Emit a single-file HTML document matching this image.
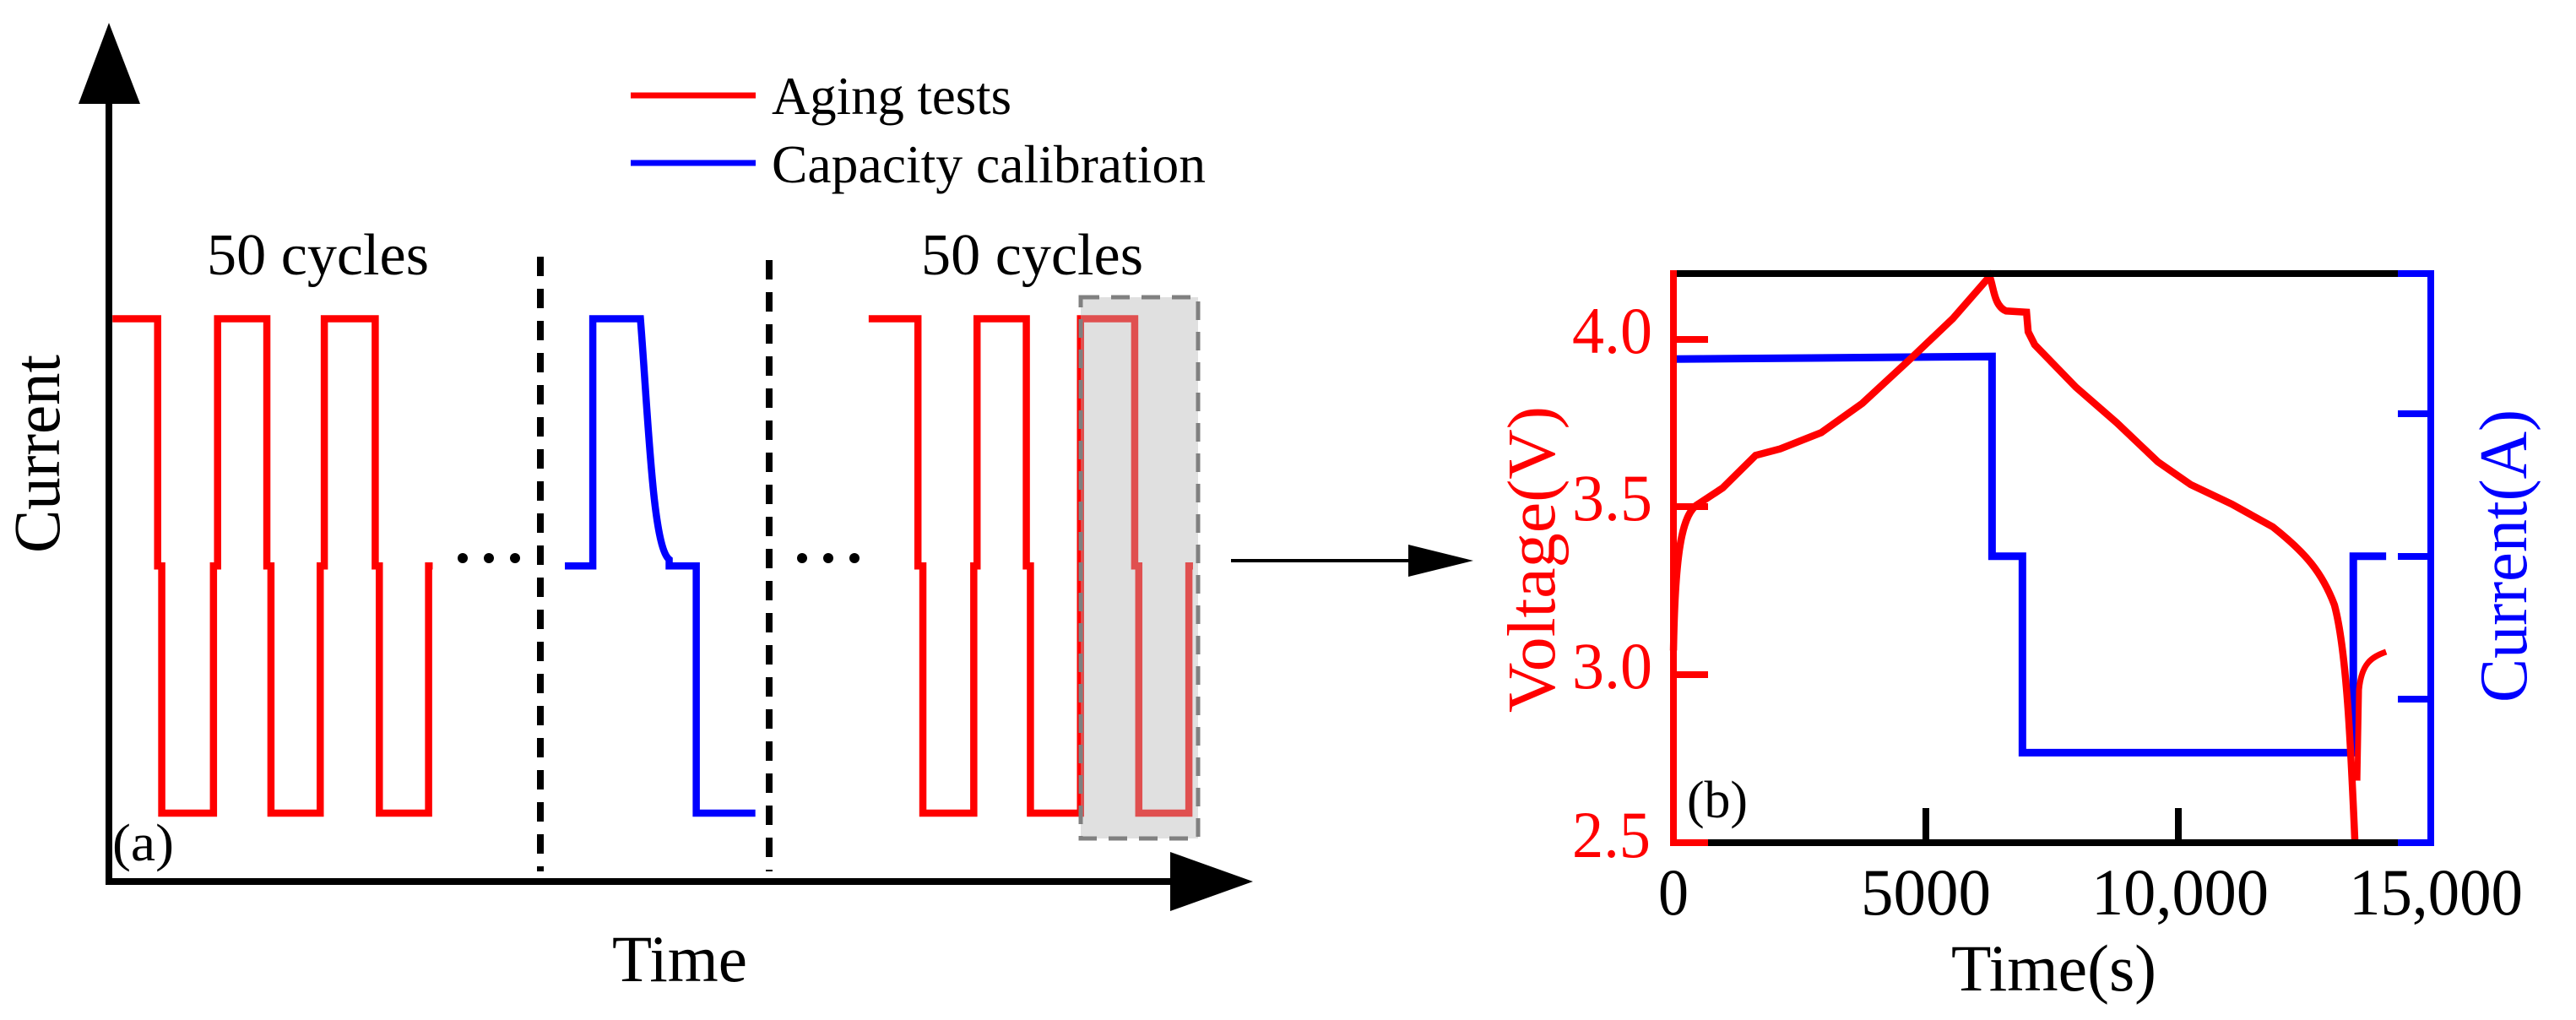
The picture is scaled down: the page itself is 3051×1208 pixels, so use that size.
<!DOCTYPE html>
<html><head><meta charset="utf-8"><style>
html,body{margin:0;padding:0;background:#fff;}
svg{display:block;}
text{font-family:"Liberation Serif",serif;}
</style></head><body>
<svg width="3051" height="1208" viewBox="0 0 3051 1208" xmlns="http://www.w3.org/2000/svg">
<!-- LEFT PANEL -->
<g transform="scale(0.97245,0.77042)" fill="none" stroke-linejoin="miter">
  <path vector-effect="non-scaling-stroke" stroke="#ff0000" stroke-width="8.5" d="M137,490 H192 V870 H197 V1250 H260 V870 H265 V490 H325 V870 H330 V1250 H390 V870 H395 V490 H457 V870 H462 V1250 H522 V870 H527"/>
  <path vector-effect="non-scaling-stroke" stroke="#ff0000" stroke-width="8.5" d="M1058,490 H1118 V870 H1124 V1250 H1186 V870 H1190 V490 H1250 V870 H1255 V1250 H1316 V490 H1382 V870 H1387 V1250 H1448 V870 H1453"/>
  <path vector-effect="non-scaling-stroke" stroke="#0000ff" stroke-width="8.5" d="M688,870 H722 V490 H780 C790,650 795,840 815,860 V870 H848 V1250 H920"/>
</g>
<rect x="1280" y="352" width="139" height="641" fill="rgba(184,184,184,0.435)" stroke="#808080" stroke-width="5" stroke-dasharray="22 14"/>
<line x1="640" y1="304" x2="640" y2="1032" stroke="#000" stroke-width="8" stroke-dasharray="23 15"/>
<line x1="911" y1="308" x2="911" y2="1032" stroke="#000" stroke-width="8" stroke-dasharray="23 15"/>
<g fill="#000"><circle cx="548" cy="661" r="6"/><circle cx="579" cy="661" r="6"/><circle cx="610" cy="661" r="6"/>
<circle cx="950" cy="661" r="6"/><circle cx="981" cy="661" r="6"/><circle cx="1012" cy="661" r="6"/></g>
<line x1="129" y1="1044" x2="129" y2="110" stroke="#000" stroke-width="8"/>
<polygon points="129,27 166,123 93,123" fill="#000"/>
<line x1="125" y1="1044" x2="1395" y2="1044" stroke="#000" stroke-width="8"/>
<polygon points="1484,1044 1386,1009 1386,1079" fill="#000"/>
<line x1="747" y1="113" x2="895" y2="113" stroke="#ff0000" stroke-width="7"/>
<line x1="747" y1="193" x2="895" y2="193" stroke="#0000ff" stroke-width="7"/>
<text x="914" y="135" font-size="64" textLength="284" lengthAdjust="spacingAndGlyphs">Aging tests</text>
<text x="914" y="216" font-size="64" textLength="514" lengthAdjust="spacingAndGlyphs">Capacity calibration</text>
<text x="245" y="325" font-size="70" textLength="263" lengthAdjust="spacingAndGlyphs">50 cycles</text>
<text x="1091" y="325" font-size="70" textLength="263" lengthAdjust="spacingAndGlyphs">50 cycles</text>
<text x="725" y="1162" font-size="78" textLength="160" lengthAdjust="spacingAndGlyphs">Time</text>
<text x="133" y="1019" font-size="62" textLength="73" lengthAdjust="spacingAndGlyphs">(a)</text>
<text transform="translate(70,655) rotate(-90)" font-size="78" textLength="235" lengthAdjust="spacingAndGlyphs">Current</text>
<line x1="1458" y1="664" x2="1672" y2="664" stroke="#000" stroke-width="4"/>
<polygon points="1745,664 1668,645 1668,683" fill="#000"/>
<!-- RIGHT PANEL -->
<g transform="translate(1525,0) scale(0.97245,0.77042)" fill="none">
  <path vector-effect="non-scaling-stroke" stroke="#0000ff" stroke-width="9" d="M470,552 L858,548 V855 H895 V1157 L1298,1157 V855 H1338"/>
  <path vector-effect="non-scaling-stroke" stroke="#ff0000" stroke-width="8.5" d="M470,1000 C472,850 480,790 500,775 L530,750 L570,700 L600,690 L650,665 L700,620 L760,550 L810,490 L855,425 C860,440 860,470 875,478 L900,480 L902,510 L910,530 L960,595 L1010,650 L1060,710 L1100,745 L1150,775 L1200,810 C1240,850 1260,880 1275,930 C1290,1000 1295,1150 1300,1295"/>
  <path vector-effect="non-scaling-stroke" stroke="#ff0000" stroke-width="7" d="M1303,1200 L1305,1060 C1308,1020 1320,1010 1338,1002"/>
</g>
<line x1="1982" y1="324" x2="2879" y2="324" stroke="#000" stroke-width="8"/>
<line x1="1982" y1="998" x2="2879" y2="998" stroke="#000" stroke-width="8"/>
<line x1="1982" y1="320" x2="1982" y2="1002" stroke="#ff0000" stroke-width="8"/>
<line x1="1978" y1="998" x2="2023" y2="998" stroke="#ff0000" stroke-width="8"/>
<line x1="2879" y1="320" x2="2879" y2="1002" stroke="#0000ff" stroke-width="8"/>
<line x1="2840" y1="998" x2="2883" y2="998" stroke="#0000ff" stroke-width="8"/>
<line x1="2840" y1="324" x2="2883" y2="324" stroke="#0000ff" stroke-width="8"/>
<g stroke="#ff0000" stroke-width="8"><line x1="1982" y1="402" x2="2023" y2="402"/><line x1="1982" y1="600" x2="2023" y2="600"/><line x1="1982" y1="799" x2="2023" y2="799"/></g>
<g stroke="#0000ff" stroke-width="8"><line x1="2840" y1="490" x2="2879" y2="490"/><line x1="2840" y1="659" x2="2879" y2="659"/><line x1="2840" y1="828" x2="2879" y2="828"/></g>
<g stroke="#000" stroke-width="8"><line x1="2281" y1="957" x2="2281" y2="998"/><line x1="2580" y1="957" x2="2580" y2="998"/></g>
<g fill="#ff0000" font-size="78">
<text x="1862" y="418" textLength="95" lengthAdjust="spacingAndGlyphs">4.0</text>
<text x="1862" y="616" textLength="95" lengthAdjust="spacingAndGlyphs">3.5</text>
<text x="1862" y="815" textLength="95" lengthAdjust="spacingAndGlyphs">3.0</text>
<text x="1862" y="1015" textLength="93" lengthAdjust="spacingAndGlyphs">2.5</text>
</g>
<g font-size="78">
<text x="1964" y="1083" textLength="36" lengthAdjust="spacingAndGlyphs">0</text>
<text x="2204" y="1083" textLength="154" lengthAdjust="spacingAndGlyphs">5000</text>
<text x="2477" y="1083" textLength="210" lengthAdjust="spacingAndGlyphs">10,000</text>
<text x="2782" y="1083" textLength="206" lengthAdjust="spacingAndGlyphs">15,000</text>
<text x="2311" y="1173" font-size="78" textLength="243" lengthAdjust="spacingAndGlyphs">Time(s)</text>
<text x="1998" y="968" font-size="62" textLength="72" lengthAdjust="spacingAndGlyphs">(b)</text>
</g>
<text transform="translate(1841,844) rotate(-90)" font-size="80" fill="#ff0000" textLength="363" lengthAdjust="spacingAndGlyphs">Voltage(V)</text>
<text transform="translate(2992,832) rotate(-90)" font-size="80" fill="#0000ff" textLength="347" lengthAdjust="spacingAndGlyphs">Current(A)</text>
</svg>
</body></html>
